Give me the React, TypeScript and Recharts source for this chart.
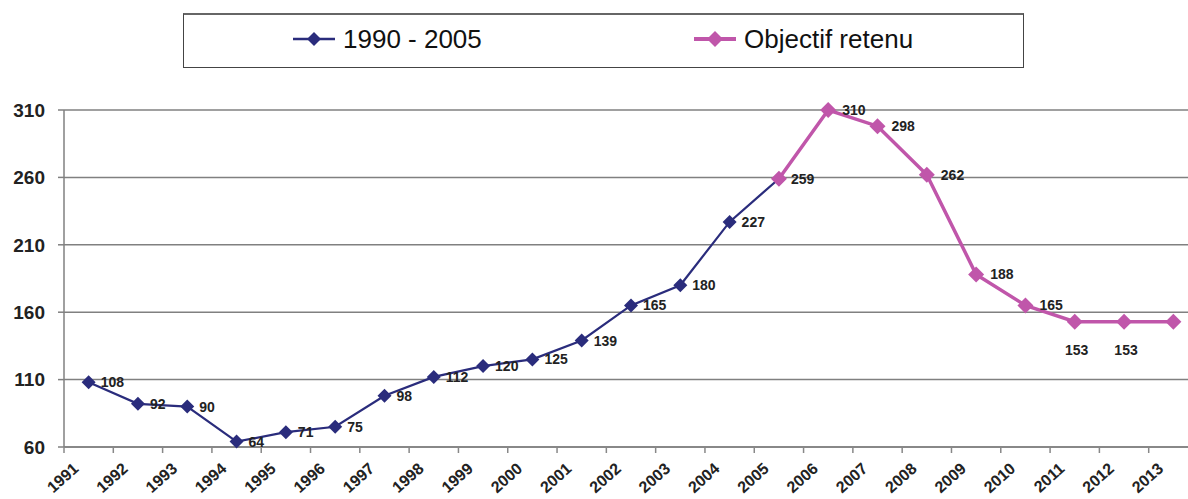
import React from "react";
import { LineChart, Line, XAxis, YAxis, CartesianGrid, LabelList } from "recharts";

const years = [
  "1991", "1992", "1993", "1994", "1995", "1996", "1997", "1998", "1999", "2000", "2001", "2002",
  "2003", "2004", "2005", "2006", "2007", "2008", "2009", "2010", "2011", "2012", "2013",
];
const historique = [108, 92, 90, 64, 71, 75, 98, 112, 120, 125, 139, 165, 180, 227, 259, null, null, null, null, null, null, null, null];
const objectif = [null, null, null, null, null, null, null, null, null, null, null, null, null, null, 259, 310, 298, 262, 188, 165, 153, 153, 153];
const yTicks = [60, 110, 160, 210, 260, 310];

const NAVY = "#2A2C7C";
const MAGENTA = "#C056AA";
const FONT = "'Liberation Sans', Arial, sans-serif";
const HALF_BAND = 1134 / 23 / 2;

const data = years.map((year, i) => ({ year, historique: historique[i], objectif: objectif[i] }));

const Diamond = (size: number, color: string) => (props: any) => {
  const { cx, cy, index } = props;
  if (cx == null || cy == null || props.value == null) return <g key={index} />;
  return (
    <path
      key={index}
      d={`M${cx},${cy - size} L${cx + size},${cy} L${cx},${cy + size} L${cx - size},${cy} Z`}
      fill={color}
    />
  );
};

const YearTick = (props: any) => {
  const { x, y, payload } = props;
  const tx = x - 9;
  const ty = y + 15;
  return (
    <g>
      <line x1={x - HALF_BAND} x2={x - HALF_BAND} y1={y - 8} y2={y - 2} stroke="#888" strokeWidth={1.5} />
      <text
        x={tx}
        y={ty}
        transform={`rotate(-42 ${tx} ${ty})`}
        textAnchor="end"
        fontFamily={FONT}
        fontWeight="bold"
        fontSize={16}
        fill="#222"
      >
        {payload.value}
      </text>
    </g>
  );
};

const ValueLabel = (skip: number[], below: number[], dx: number) => (props: any) => {
  const { x, y, value, index } = props;
  if (value == null || skip.includes(index)) return null;
  const isBelow = below.includes(index);
  return (
    <text
      x={isBelow ? x + 2 : x + dx}
      y={isBelow ? y + 33 : y + 5}
      textAnchor={isBelow ? "middle" : "start"}
      fontFamily={FONT}
      fontWeight="bold"
      fontSize={14}
      fill="#222"
    >
      {value}
    </text>
  );
};

const LegendBox = () => (
  <div
    style={{
      position: "absolute",
      left: 183,
      top: 13,
      width: 839,
      height: 52,
      border: "1px solid #444",
      borderTop: "2px solid #666",
      background: "#fff",
      fontFamily: FONT,
      fontSize: 26,
      color: "#111",
    }}
  >
    {[
      { label: "1990 - 2005", color: NAVY, left: 108, w: 2.5, s: 7 },
      { label: "Objectif retenu", color: MAGENTA, left: 509, w: 4, s: 8 },
    ].map((item) => (
      <div key={item.label} style={{ position: "absolute", left: item.left, top: 9, display: "flex", alignItems: "center" }}>
        <svg width={44} height={30}>
          <line x1={1} x2={43} y1={15} y2={15} stroke={item.color} strokeWidth={item.w} />
          <path d={`M22,${15 - item.s} L${22 + item.s},15 L22,${15 + item.s} L${22 - item.s},15 Z`} fill={item.color} />
        </svg>
        <span style={{ marginLeft: 7, lineHeight: "30px" }}>{item.label}</span>
      </div>
    ))}
  </div>
);

export default function App() {
  return (
    <div style={{ position: "fixed", left: 0, top: 0, width: 1188, height: 499, overflow: "hidden", background: "#fff" }}>
      <LineChart width={1200} height={499} data={data} margin={{ top: 110, right: 2, bottom: 0, left: 4 }}>
        <CartesianGrid vertical={false} stroke="#808080" strokeWidth={1.5} />
        <XAxis
          dataKey="year"
          interval={0}
          height={52}
          padding={{ left: HALF_BAND, right: HALF_BAND }}
          tickLine={false}
          tickSize={6}
          tickMargin={2}
          axisLine={{ stroke: "#808080", strokeWidth: 1.5 }}
          tick={<YearTick />}
        />
        <YAxis
          type="number"
          domain={[60, 310]}
          ticks={yTicks}
          width={60}
          interval={0}
          tickSize={6}
          tickMargin={13}
          axisLine={{ stroke: "#808080", strokeWidth: 1.5 }}
          tickLine={{ stroke: "#808080", strokeWidth: 1.5 }}
          tick={{ fontSize: 19, fontWeight: "bold", fill: "#222", fontFamily: FONT }}
        />
        <Line
          dataKey="historique"
          stroke={NAVY}
          strokeWidth={2.2}
          dot={Diamond(7, NAVY)}
          activeDot={false}
          connectNulls={false}
          isAnimationActive={false}
        >
          <LabelList dataKey="historique" content={ValueLabel([], [], 12)} />
        </Line>
        <Line
          dataKey="objectif"
          stroke={MAGENTA}
          strokeWidth={3.5}
          dot={Diamond(8, MAGENTA)}
          activeDot={false}
          connectNulls={false}
          isAnimationActive={false}
        >
          <LabelList dataKey="objectif" content={ValueLabel([14, 22], [20, 21], 14)} />
        </Line>
      </LineChart>
      <LegendBox />
    </div>
  );
}
